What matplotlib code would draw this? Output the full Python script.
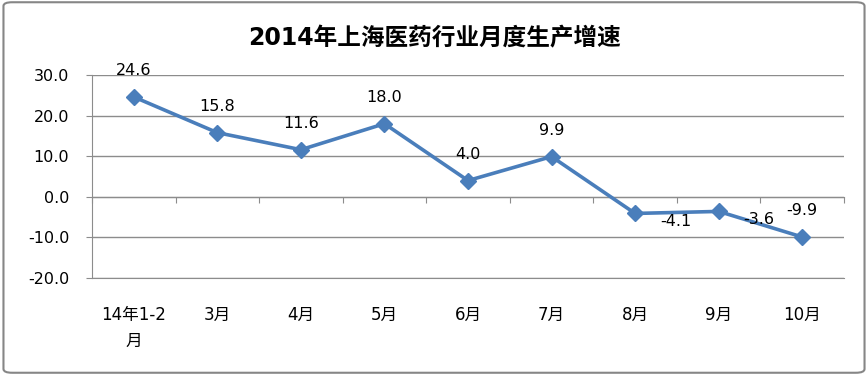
import matplotlib.pyplot as plt
from matplotlib.patches import FancyBboxPatch

plt.rcParams['font.family'] = ['DejaVu Sans', 'Noto Sans CJK SC']

months = ["14年1-2\n月", "3月", "4月", "5月", "6月", "7月", "8月", "9月", "10月"]
growth = [24.6, 15.8, 11.6, 18.0, 4.0, 9.9, -4.1, -3.6, -9.9]
# label placement: 'above' or 'right' (as in the original Excel chart)
label_pos = ["above", "above", "above", "above", "above", "above", "right", "right", "above"]

line_color = "#4A7EBB"
grid_color = "#8C8C8C"

fig = plt.figure(figsize=(8.68, 3.75), dpi=100)
ax = fig.add_axes([92 / 868, 1 - 278 / 375, (844 - 92) / 868, (278 - 75) / 375])

x = list(range(len(months)))
ax.plot(x, growth, color=line_color, linewidth=2.6, marker="D", markersize=8,
        markerfacecolor=line_color, markeredgecolor=line_color, zorder=3)

for xi, v, pos in zip(x, growth, label_pos):
    if pos == "above":
        ax.annotate(f"{v:.1f}", (xi, v), xytext=(0, 19), textcoords="offset points",
                    ha="center", va="center", fontsize=11.5)
    else:
        ax.annotate(f"{v:.1f}", (xi, v), xytext=(29, -6), textcoords="offset points",
                    ha="center", va="center", fontsize=11.5)

ax.set_xlim(-0.5, len(months) - 0.5)
ax.set_ylim(-20, 30)
ax.set_yticks(range(-20, 31, 10))
ax.set_yticklabels([f"{t:.1f}" for t in range(-20, 31, 10)], fontsize=11.5)
ax.set_xticks(x)
ax.set_xticklabels(months, fontsize=12, linespacing=1.6)
ax.tick_params(axis="x", length=0, pad=20)
ax.tick_params(axis="y", length=4.3, color=grid_color, pad=12)

ax.grid(axis="y", color=grid_color, linewidth=1)
ax.set_axisbelow(True)
for side in ["top", "right"]:
    ax.spines[side].set_visible(False)
ax.spines["left"].set_color(grid_color)
ax.spines["bottom"].set_color(grid_color)

# category axis crossing at zero with tick marks between categories
sec = ax.secondary_xaxis(0, transform=ax.transData)
sec.set_xticks([i + 0.5 for i in x[:-1]] + [-0.5, len(months) - 0.5])
sec.set_xticklabels([])
sec.tick_params(length=4.3, color=grid_color, direction="out")
sec.spines["bottom"].set_color(grid_color)

fig.text(0.5, 1 - 38 / 375, "2014年上海医药行业月度生产增速", ha="center", va="center",
         fontsize=17, fontweight="bold")

border = FancyBboxPatch((0.004, 0.006), 0.992, 0.988, boxstyle="round,pad=0,rounding_size=0.01",
                        transform=fig.transFigure, fill=False, edgecolor="#868686", linewidth=1.5)
fig.patches.append(border)

fig.savefig("out.png", dpi=100)
